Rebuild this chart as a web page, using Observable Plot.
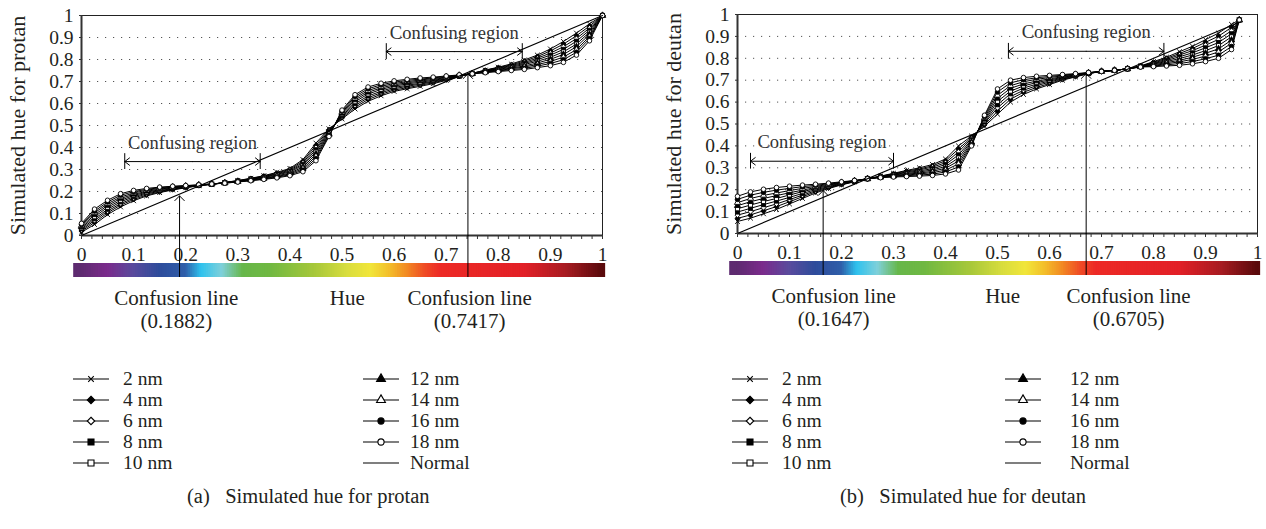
<!DOCTYPE html>
<html><head><meta charset="utf-8">
<script src="https://cdn.jsdelivr.net/npm/d3@7"></script>
<script src="https://cdn.jsdelivr.net/npm/@observablehq/plot@0.6"></script>
<style>
html,body{margin:0;padding:0;background:#fff;}
#root{position:relative;width:1266px;height:529px;overflow:hidden;font-family:"Liberation Serif",serif;color:#231f20;background:#fff;}
.txt{position:absolute;white-space:nowrap;font-size:19.5px;line-height:22px;}
.cap{position:absolute;white-space:nowrap;font-size:20.5px;line-height:22px;}
</style></head>
<body><div id="root"></div>
<script>
// ---------- data ----------
const seriesNames = ["2 nm","4 nm","6 nm","8 nm","10 nm","12 nm","14 nm","16 nm","18 nm"];
const symbolNames = ["times","diamond2","diamond2","square","square","triangle","triangle","circle","circle"];
const symbolFilled = [true,true,false,true,false,true,false,true,false];
const yTicks = [0,0.1,0.2,0.3,0.4,0.5,0.6,0.7,0.8,0.9,1];
const gridY = [0.1,0.2,0.3,0.4,0.5,0.6,0.7,0.8,0.9];
const xTicks = [0,0.1,0.2,0.3,0.4,0.5,0.6,0.7,0.8,0.9,1];

// protan
const protanHue = [0,0.025,0.05,0.075,0.1,0.125,0.15,0.175,0.2,0.225,0.25,0.275,0.3,0.325,0.35,0.375,0.4,0.425,0.45,0.475,0.5,0.525,0.55,0.575,0.6,0.625,0.65,0.675,0.7,0.725,0.75,0.775,0.8,0.825,0.85,0.875,0.9,0.925,0.95,0.975,1];
const protan2  = [.015,.05,.095,.13,.158,.18,.195,.207,.217,.226,.233,.241,.25,.26,.272,.287,.305,.345,.42,.485,.53,.575,.61,.635,.655,.667,.678,.69,.705,.722,.737,.752,.765,.78,.798,.82,.848,.882,.92,.962,1];
const protan4  = [.02,.059,.103,.138,.164,.184,.198,.209,.218,.227,.233,.241,.249,.259,.27,.284,.301,.338,.41,.481,.535,.583,.618,.642,.661,.672,.683,.694,.708,.723,.737,.751,.763,.776,.793,.813,.839,.87,.908,.952,1];
const protan6  = [.025,.068,.111,.145,.17,.189,.201,.211,.22,.227,.233,.24,.248,.257,.268,.281,.297,.331,.4,.476,.54,.591,.626,.649,.667,.678,.688,.698,.71,.724,.737,.749,.76,.773,.787,.806,.829,.858,.895,.943,1];
const protan8  = [.03,.076,.119,.153,.176,.193,.204,.213,.221,.228,.233,.24,.247,.256,.266,.278,.293,.324,.39,.472,.545,.599,.634,.656,.673,.683,.692,.701,.713,.725,.736,.748,.758,.769,.782,.799,.82,.846,.883,.933,1];
const protan10 = [.035,.085,.128,.16,.182,.197,.208,.216,.222,.228,.234,.24,.247,.255,.264,.275,.289,.318,.38,.468,.55,.608,.643,.664,.679,.689,.697,.705,.715,.726,.736,.746,.755,.765,.777,.792,.81,.835,.87,.924,1];
const protan12 = [.04,.094,.136,.168,.187,.201,.211,.218,.223,.229,.234,.239,.246,.253,.261,.271,.284,.311,.37,.463,.555,.616,.651,.671,.685,.694,.702,.709,.718,.727,.736,.745,.753,.761,.771,.784,.801,.823,.858,.914,1];
const protan14 = [.045,.103,.144,.175,.193,.206,.214,.22,.225,.229,.234,.239,.245,.252,.259,.268,.28,.304,.36,.459,.56,.624,.659,.678,.691,.699,.707,.713,.72,.728,.736,.743,.75,.758,.766,.777,.791,.811,.845,.904,1];
const protan16 = [.05,.111,.152,.183,.199,.21,.217,.222,.226,.23,.234,.238,.244,.25,.257,.265,.276,.297,.35,.454,.565,.632,.667,.685,.697,.705,.711,.716,.723,.729,.735,.742,.748,.754,.76,.77,.782,.799,.833,.895,1];
const protan18 = [.055,.12,.16,.19,.205,.214,.22,.224,.227,.23,.234,.238,.243,.249,.255,.262,.272,.29,.34,.45,.57,.64,.675,.692,.703,.71,.716,.72,.725,.73,.735,.74,.745,.75,.755,.763,.772,.787,.82,.885,1];
const protanNormalHue = [0,1];
const protanNormalVal = [0,1];
const protanConfusion = [0.1882,0.7417];
const protanArrowTip = [0.18,0.735];
const protanConfLabelX = [0.182,0.745];
const protanRegionStart = [0.083,0.585];
const protanRegionEnd = [0.343,0.846];
const protanRegionLevel = [0.336,0.836];

// deutan
const deutanHue = [0,0.025,0.05,0.075,0.1,0.125,0.15,0.175,0.2,0.225,0.25,0.275,0.3,0.325,0.35,0.375,0.4,0.425,0.45,0.475,0.5,0.525,0.55,0.575,0.6,0.625,0.65,0.675,0.7,0.725,0.75,0.775,0.8,0.825,0.85,0.875,0.9,0.925,0.95,0.965];
const deutan2  = [.055,.07,.09,.11,.135,.16,.185,.205,.222,.236,.25,.262,.275,.288,.30,.315,.34,.40,.445,.49,.545,.60,.635,.66,.68,.70,.715,.73,.74,.745,.752,.765,.785,.805,.83,.855,.885,.915,.955,.975];
const deutan4  = [.069,.085,.104,.123,.145,.168,.19,.208,.224,.237,.25,.261,.273,.285,.295,.309,.332,.386,.439,.496,.559,.613,.645,.667,.685,.703,.717,.731,.74,.745,.752,.764,.782,.80,.822,.845,.873,.901,.941,.975];
const deutan6  = [.084,.10,.118,.135,.155,.175,.195,.211,.226,.238,.25,.26,.271,.281,.291,.303,.323,.373,.434,.503,.574,.625,.654,.675,.691,.707,.719,.731,.74,.745,.752,.764,.779,.795,.815,.835,.86,.886,.926,.975];
const deutan8  = [.098,.115,.132,.148,.165,.183,.20,.214,.227,.238,.25,.259,.269,.278,.286,.296,.315,.359,.428,.509,.588,.638,.664,.682,.696,.71,.721,.732,.74,.745,.752,.763,.776,.79,.807,.825,.848,.872,.912,.975];
const deutan10 = [.113,.13,.146,.16,.176,.191,.205,.218,.229,.239,.25,.259,.267,.274,.281,.29,.306,.345,.423,.515,.603,.65,.674,.689,.701,.713,.723,.733,.74,.745,.752,.763,.774,.785,.799,.815,.835,.858,.898,.975];
const deutan12 = [.127,.145,.16,.173,.186,.198,.21,.221,.231,.24,.25,.258,.264,.271,.276,.284,.298,.331,.417,.521,.617,.663,.683,.696,.706,.716,.724,.733,.74,.745,.752,.762,.771,.78,.791,.805,.823,.843,.883,.975];
const deutan14 = [.141,.16,.174,.185,.196,.206,.215,.224,.233,.241,.25,.257,.262,.267,.272,.278,.289,.318,.411,.528,.631,.675,.693,.704,.712,.72,.726,.734,.74,.745,.752,.761,.768,.775,.784,.795,.81,.829,.869,.975];
const deutan16 = [.156,.175,.188,.198,.206,.214,.22,.227,.234,.241,.25,.256,.26,.264,.267,.271,.281,.304,.406,.534,.646,.688,.702,.711,.717,.723,.728,.734,.74,.745,.752,.761,.765,.77,.776,.785,.798,.814,.854,.975];
const deutan18 = [.17,.19,.202,.21,.216,.221,.225,.23,.236,.242,.25,.255,.258,.26,.262,.265,.272,.29,.40,.54,.66,.70,.712,.718,.722,.726,.73,.735,.74,.745,.752,.76,.762,.765,.768,.775,.785,.80,.84,.975];
const deutanNormalHue = [0,0.965];
const deutanNormalVal = [0,0.965];
const deutanConfusion = [0.1647,0.6705];
const deutanArrowTip = [0.196,0.73];
const deutanConfLabelX = [0.185,0.752];
const deutanRegionStart = [0.025,0.521];
const deutanRegionEnd = [0.30,0.82];
const deutanRegionLevel = [0.33,0.832];

// hue colour bar
const hueStops  = [0,0.05,0.1,0.15,0.2,0.23,0.27,0.31,0.36,0.45,0.51,0.555,0.59,0.625,0.66,0.69,0.85,0.93,1];
const hueColors = ["#5e2b70","#7b2b8c","#5a4b9d","#2e4c9b","#2f5ea9","#2fc2ee","#7fd0da","#67b74a","#6fb842","#a8c83a","#d8dd3e","#f1e63a","#f3c02a","#f28a23","#ef4b25","#ed2a26","#e22027","#a81c22","#5a0a0c"];

// ---------- drawing ----------
const root = document.getElementById("root");
const FONT = "'Liberation Serif', 'Times New Roman', serif";

function mainPlot(o) {
  const lines = [], dots = [];
  o.series.forEach((vals, k) => {
    const pts = o.hue.map((h, i) => ({h, v: vals[i]}));
    lines.push(Plot.line(pts, {x: "h", y: "v", stroke: "#000", strokeWidth: 1}));
    dots.push(Plot.dot(pts, {x: "h", y: "v", symbol: symbolNames[k], r: 2.3, stroke: "#000", strokeWidth: 0.9,
      fill: symbolNames[k] === "times" ? "none" : (symbolFilled[k] ? "#000" : "#fff")}));
  });
  const normal = o.normalHue.map((h, i) => ({h, v: o.normalVal[i]}));
  const conf = o.conf.map((c, i) => ({c, tip: o.tip[i]}));
  const regions = o.regStart.map((s, i) => ({s, e: o.regEnd[i], y: o.regLevel[i], m: (s + o.regEnd[i]) / 2}));
  return Plot.plot({
    width: 620, height: o.bottom + 12, marginTop: o.top, marginBottom: 12, marginLeft: 81, marginRight: o.mr,
    x: {domain: [0, 1], axis: null},
    y: {domain: [0, 1], axis: null},
    style: {background: "transparent", fontFamily: FONT, color: "#231f20", overflow: "visible"},
    marks: [
      Plot.ruleY(gridY, {stroke: "#555", strokeDasharray: "1.2 6.8", strokeWidth: 1}),
      Plot.axisY(yTicks, {tickSize: 2, tickPadding: 6, fontSize: 19.5, tickFormat: d => String(d), label: null, stroke: "#333"}),
      Plot.text([o.ylabel], {frameAnchor: "left", text: d => d, rotate: -90, dx: -64, textAnchor: "middle", lineAnchor: "middle", fontSize: 22}),
      Plot.frame({stroke: "#222", strokeWidth: 1}),
      Plot.ruleX([0], {stroke: "#333", strokeWidth: 2}),
      Plot.ruleY([0], {stroke: "#333", strokeWidth: 2}),
      ...lines,
      ...dots,
      Plot.line(normal, {x: "h", y: "v", stroke: "#000", strokeWidth: 1.1}),
      Plot.arrow(conf, {x1: "c", x2: "c", y1: 0, y2: "tip", headAngle: 90, headLength: 10, stroke: "#000", strokeWidth: 1}),
      Plot.ruleX(regions, {x: "s", y1: d => d.y - 0.036, y2: d => d.y + 0.036, stroke: "#000", strokeWidth: 1}),
      Plot.ruleX(regions, {x: "e", y1: d => d.y - 0.036, y2: d => d.y + 0.036, stroke: "#000", strokeWidth: 1}),
      Plot.arrow(regions, {x1: "m", x2: "s", y1: "y", y2: "y", headAngle: 75, headLength: 9, stroke: "#000", strokeWidth: 1}),
      Plot.arrow(regions, {x1: "m", x2: "e", y1: "y", y2: "y", headAngle: 75, headLength: 9, stroke: "#000", strokeWidth: 1}),
      Plot.text(regions, {x: "m", y: "y", text: () => "Confusing region", dy: -19, lineAnchor: "middle", fontSize: 18.5, fill: "#333"})
    ]
  });
}

function stripPlot(o) {
  const N = 300, a0 = -0.015, a1 = 1.004;
  const w = (a1 - a0) / N;
  const cells = d3.range(N).map(i => ({a: a0 + i * w, b: a0 + (i + 1.6) * w, c: a0 + (i + 0.5) * w}));
  const minorTicks = d3.range(0, 1.0001, 0.02);
  return Plot.plot({
    width: 620, height: 100, marginTop: 0, marginBottom: 0, marginLeft: 81, marginRight: o.mr,
    x: {domain: [0, 1], axis: null},
    color: {type: "linear", domain: hueStops, range: hueColors, interpolate: "rgb", clamp: true},
    style: {background: "transparent", fontFamily: FONT, color: "#231f20", overflow: "visible"},
    marks: [
      Plot.rect(cells, {x1: "a", x2: "b", fill: "c", insetTop: 28, insetBottom: 58}),
      Plot.tickX(minorTicks, {x: d => d, insetBottom: 96, stroke: "#333", strokeWidth: 1}),
      Plot.text(xTicks, {x: d => d, text: d => String(d), frameAnchor: "top", lineAnchor: "middle", dy: 19, fontSize: 19.5}),
      Plot.ruleX(o.conf, {x: d => d, insetBottom: 58, stroke: "#000", strokeWidth: 1}),
      Plot.text(o.labelX, {x: d => d, text: () => "Confusion line", frameAnchor: "top", lineAnchor: "middle", dy: 63, fontSize: 21}),
      Plot.text(o.labelX, {x: d => d, text: (d, i) => `(${o.conf[i]})`, frameAnchor: "top", lineAnchor: "middle", dy: 86, fontSize: 21}),
      Plot.text([0.51], {x: d => d, text: () => "Hue", frameAnchor: "top", lineAnchor: "middle", dy: 63, fontSize: 21})
    ]
  });
}

function place(el, left, top) {
  el.style.position = "absolute";
  el.style.left = left + "px";
  el.style.top = top + "px";
  root.appendChild(el);
}

const panels = [
  {left: 0, top: 15, bottom: 235, mr: 18, hue: protanHue,
   series: [protan2, protan4, protan6, protan8, protan10, protan12, protan14, protan16, protan18],
   normalHue: protanNormalHue, normalVal: protanNormalVal, conf: protanConfusion, tip: protanArrowTip,
   labelX: protanConfLabelX, regStart: protanRegionStart, regEnd: protanRegionEnd, regLevel: protanRegionLevel,
   ylabel: "Simulated hue for protan", caption: "(a)\u2002 Simulated hue for protan", capX: 187,
   leg: {c1s: 73, c1t: 123, c2s: 363, c2t: 410}},
  {left: 656, top: 14, bottom: 233, mr: 19, hue: deutanHue,
   series: [deutan2, deutan4, deutan6, deutan8, deutan10, deutan12, deutan14, deutan16, deutan18],
   normalHue: deutanNormalHue, normalVal: deutanNormalVal, conf: deutanConfusion, tip: deutanArrowTip,
   labelX: deutanConfLabelX, regStart: deutanRegionStart, regEnd: deutanRegionEnd, regLevel: deutanRegionLevel,
   ylabel: "Simulated hue for deutan", caption: "(b)\u2002 Simulated hue for deutan", capX: 840,
   leg: {c1s: 732, c1t: 782, c2s: 1005, c2t: 1070}}
];

const d3Sym = {times: d3.symbolTimes, diamond2: d3.symbolDiamond2, square: d3.symbolSquare, triangle: d3.symbolTriangle, circle: d3.symbolCircle};

function legendItem(sx, tx, yc, k, label) {
  const svg = d3.create("svg").attr("width", 36).attr("height", 14);
  svg.append("line").attr("x1", 0).attr("x2", 36).attr("y1", 7).attr("y2", 7).attr("stroke", "#000").attr("stroke-width", 1.2);
  if (k >= 0) {
    const name = symbolNames[k];
    const size = name === "times" ? 22 : name === "circle" ? 30 : name === "triangle" ? 34 : 36;
    svg.append("path").attr("d", d3.symbol(d3Sym[name], size)()).attr("transform", "translate(18,7)")
      .attr("stroke", "#000").attr("stroke-width", 1.1)
      .attr("fill", name === "times" ? "none" : (symbolFilled[k] ? "#000" : "#fff"));
  }
  place(svg.node(), sx, yc - 7);
  const t = document.createElement("div");
  t.className = "txt";
  t.textContent = label;
  place(t, tx, yc - 11);
}

panels.forEach(p => {
  const a = mainPlot(p);
  place(a, p.left, 0);
  const b = stripPlot(p);
  place(b, p.left, p.bottom);
  const rows = [379, 400, 421, 442, 463];
  for (let k = 0; k < 5; k++) legendItem(p.leg.c1s, p.leg.c1t, rows[k], k, seriesNames[k]);
  for (let k = 5; k < 9; k++) legendItem(p.leg.c2s, p.leg.c2t, rows[k - 5], k, seriesNames[k]);
  legendItem(p.leg.c2s, p.leg.c2t, rows[4], -1, "Normal");
  const cap = document.createElement("div");
  cap.className = "cap";
  cap.textContent = p.caption;
  place(cap, p.capX, 485);
});
</script>
</body></html>
